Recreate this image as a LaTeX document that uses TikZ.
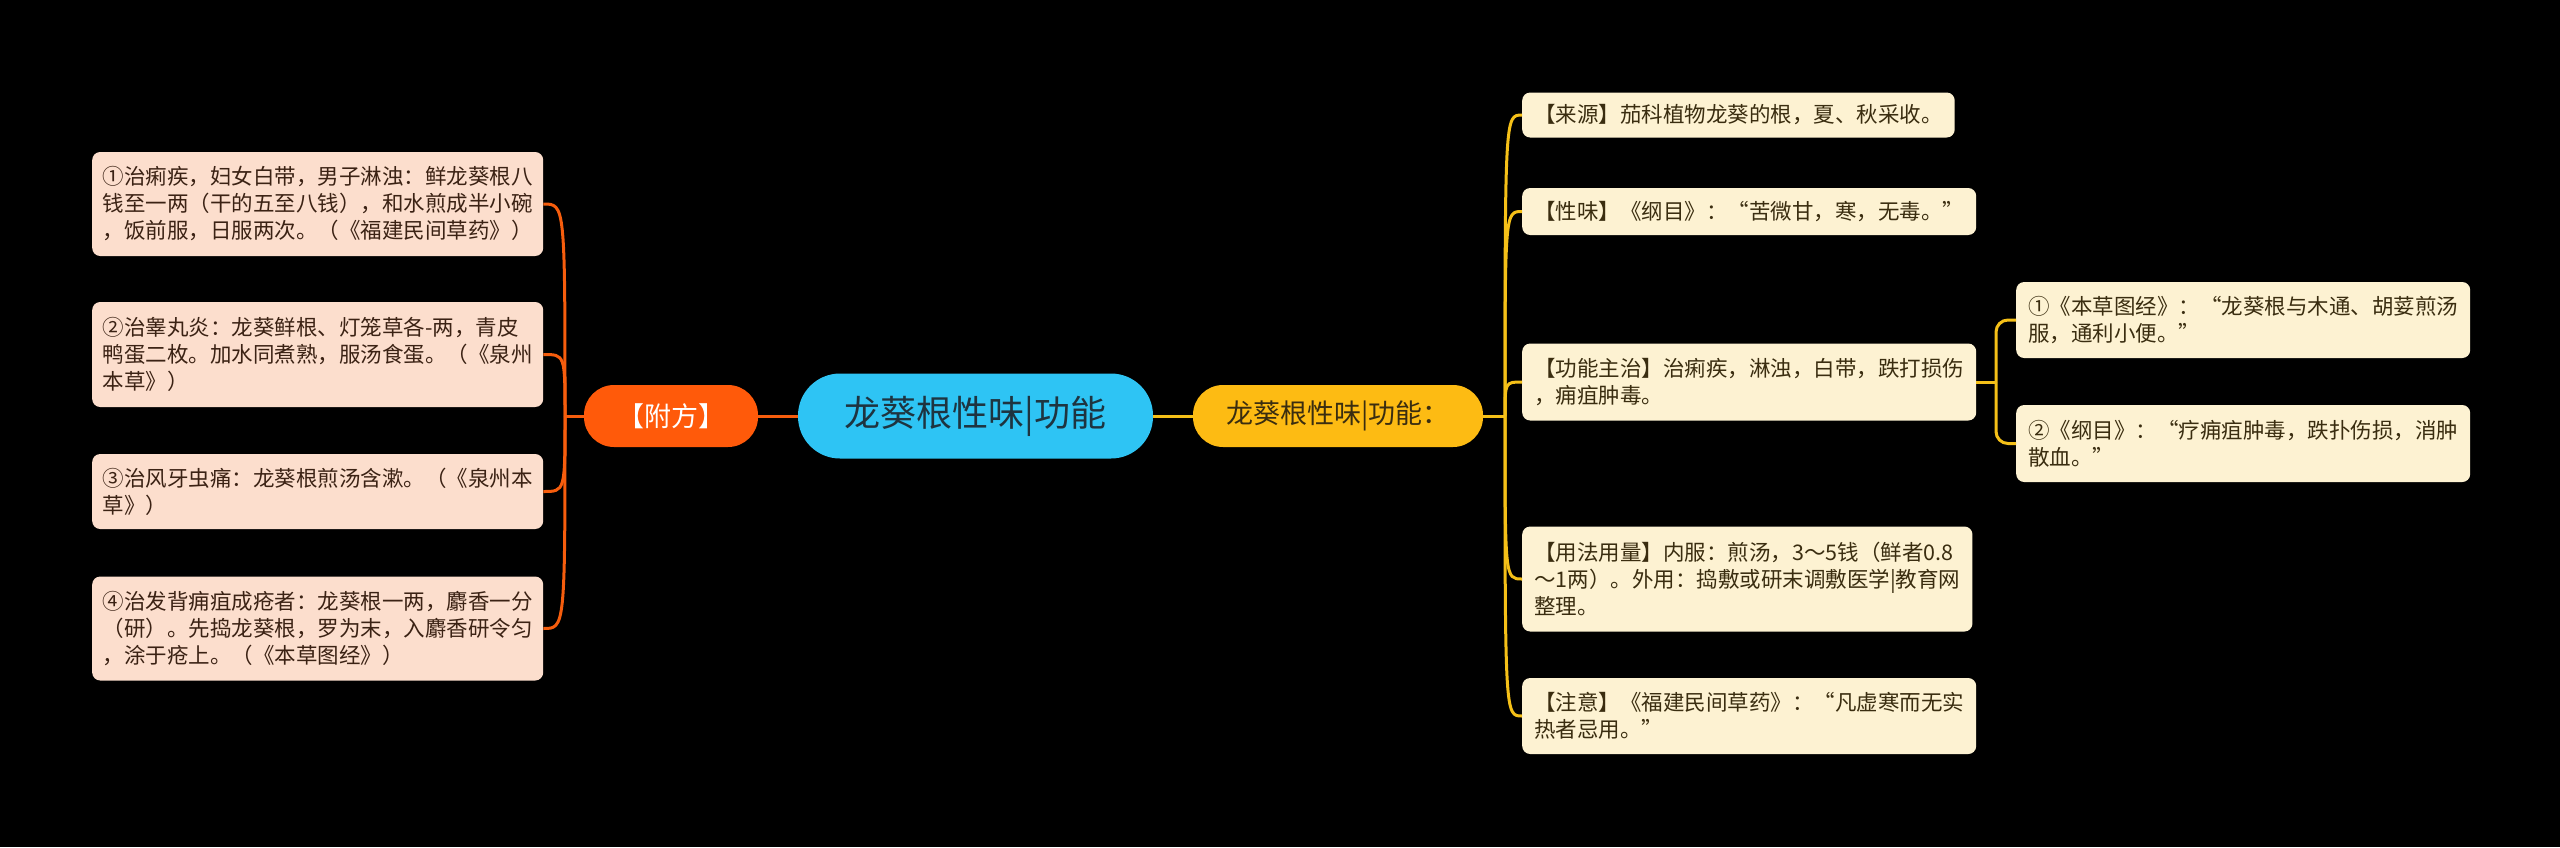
\documentclass[tikz,border=0pt]{standalone}
\usepackage{fontspec}
\setmainfont{Noto Sans CJK SC}
\definecolor{bgc}{HTML}{000000}
\definecolor{orangeN}{HTML}{FF5A0A}
\definecolor{orangeL}{HTML}{F65D0D}
\definecolor{cyanN}{HTML}{2EC4F4}
\definecolor{yellowN}{HTML}{FDBB13}
\definecolor{yellowL}{HTML}{F5C018}
\definecolor{peach}{HTML}{FCDECD}
\definecolor{cream}{HTML}{FDF2D2}
\definecolor{txtL}{HTML}{3B2214}
\definecolor{txtR}{HTML}{3A2D10}
\definecolor{txtC}{HTML}{1E3440}
\tikzset{
  leafL/.style={draw=none, fill=peach, text=txtL, rounded corners=8pt, align=left,
    text width=430pt, inner xsep=10.5pt, inner ysep=0pt,
    font=\fontsize{21.5pt}{27pt}\selectfont, anchor=west},
  leafR/.style={draw=none, fill=cream, text=txtR, rounded corners=8pt, align=left,
    inner xsep=12pt, inner ysep=0pt,
    font=\fontsize{21.5pt}{27pt}\selectfont, anchor=west},
  pill/.style={draw=none, rounded corners=30pt, minimum height=62pt, inner sep=0pt},
  oline/.style={draw=orangeL, line width=3pt},
  yline/.style={draw=yellowL, line width=3pt},
}
\begin{document}
\begin{tikzpicture}[x=1pt,y=-1pt]
\fill[bgc] (0,0) rectangle (2560,847);
\useasboundingbox (0,0) rectangle (2560,847);

% central nodes
\node[pill, fill=cyanN, text=txtC, minimum width=355pt, minimum height=85pt, rounded corners=42pt,
  font=\fontsize{36pt}{40pt}\selectfont] (root) at (975.5,416) {龙葵根性味|功能};
\node[pill, fill=orangeN, text=white, minimum width=174pt,
  font=\fontsize{27pt}{30pt}\selectfont] (fufang) at (671,416) {【附方】};
\node[pill, fill=yellowN, text=txtR, minimum width=290pt,
  font=\fontsize{27pt}{30pt}\selectfont] (gn) at (1338,416) {龙葵根性味|功能：};

% left leaves
\node[leafL, minimum height=104pt] (L1) at (92,204) {①治痢疾，妇女白带，男子淋浊：鲜龙葵根八\\钱至一两（干的五至八钱），和水煎成半小碗\\，饭前服，日服两次。（《福建民间草药》）};
\node[leafL, minimum height=105pt] (L2) at (92,354.5) {②治睾丸炎：龙葵鲜根、灯笼草各-两，青皮\\鸭蛋二枚。加水同煮熟，服汤食蛋。（《泉州\\本草》）};
\node[leafL, minimum height=75pt] (L3) at (92,491.5) {③治风牙虫痛：龙葵根煎汤含漱。（《泉州本\\草》）};
\node[leafL, minimum height=104pt] (L4) at (92,628.5) {④治发背痈疽成疮者：龙葵根一两，麝香一分\\（研）。先捣龙葵根，罗为末，入麝香研令匀\\，涂于疮上。（《本草图经》）};

% right leaves
\node[leafR, minimum height=45pt] (R1) at (1522,115) {【来源】茄科植物龙葵的根，夏、秋采收。};
\node[leafR, minimum height=47pt] (R2) at (1522,211.5) {【性味】《纲目》：“苦微甘，寒，无毒。”};
\node[leafR, minimum height=77pt] (R3) at (1522,382) {【功能主治】治痢疾，淋浊，白带，跌打损伤\\，痈疽肿毒。};
\node[leafR, minimum height=105pt] (R4) at (1522,579) {【用法用量】内服：煎汤，3～5钱（鲜者0.8\\～1两）。外用：捣敷或研末调敷医学|教育网\\整理。};
\node[leafR, minimum height=76pt] (R5) at (1522,716) {【注意】《福建民间草药》：“凡虚寒而无实\\热者忌用。”};

% far right leaves
\node[leafR, minimum height=76pt] (F1) at (2016,320) {①《本草图经》：“龙葵根与木通、胡荽煎汤\\服，通利小便。”};
\node[leafR, minimum height=77pt] (F2) at (2016,443.5) {②《纲目》：“疗痈疽肿毒，跌扑伤损，消肿\\散血。”};

% junctions
\coordinate (jl) at (565,416);
\coordinate (jr) at (1505,416);
\coordinate (jf) at (1996,382);

% connectors
\draw[oline] (fufang.east) -- (root.west);
\draw[yline] (root.east) -- (gn.west);
\draw[oline] (fufang.west) -- (jl);
\foreach \n in {L1,L2,L3,L4}{
  \draw[oline] (jl) .. controls (jl |- \n.east) .. (\n.east);
}
\draw[yline] (gn.east) -- (jr);
\foreach \n in {R1,R2,R3,R4,R5}{
  \draw[yline] (jr) .. controls (jr |- \n.west) .. (\n.west);
}
\draw[yline] (R3.east) -- (jf);
\draw[yline, rounded corners=12pt] (jf) |- (F1.west);
\draw[yline, rounded corners=12pt] (jf) |- (F2.west);
\end{tikzpicture}
\end{document}
